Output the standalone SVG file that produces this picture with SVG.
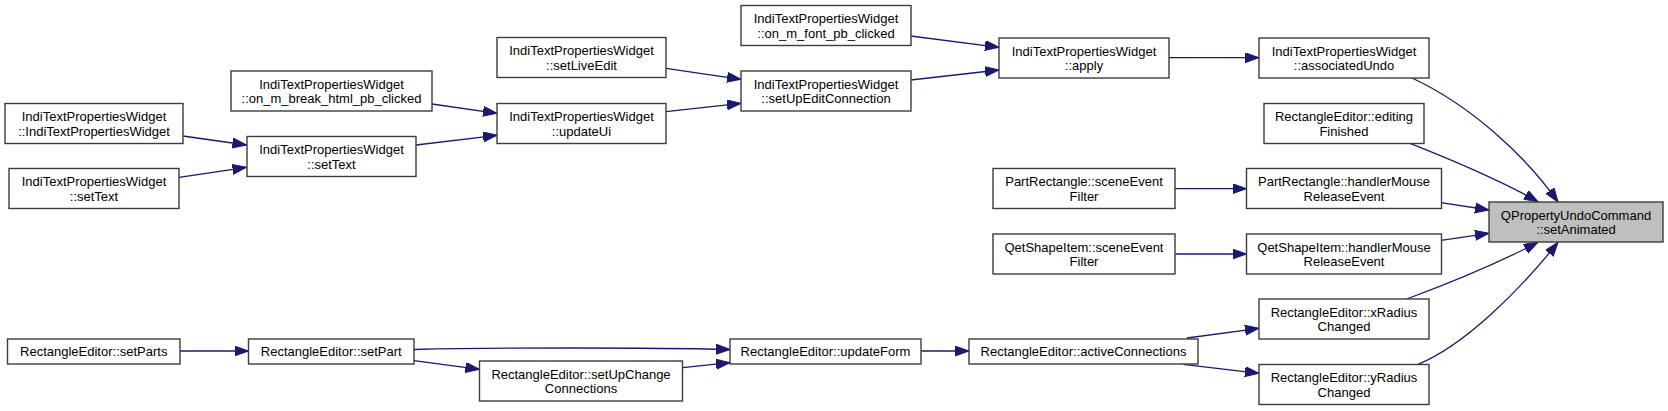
<svg xmlns="http://www.w3.org/2000/svg" width="1668" height="411" viewBox="0 0 1668 411">
<style>
.n rect{fill:#ffffff;stroke:#3c3c3c;stroke-width:1.4}
.n.hl rect{fill:#bfbfbf}
.n text{font-family:"Liberation Sans",Arial,sans-serif;font-size:13px;fill:#000;text-anchor:middle}
.e path{fill:none;stroke:#191970;stroke-width:1.3;marker-end:url(#ah)}
</style>
<defs>
<marker id="ah" markerUnits="userSpaceOnUse" markerWidth="15" markerHeight="11" refX="14" refY="5" orient="auto" viewBox="0 0 15 11">
<path d="M0,0 L14,5 L0,10 z" fill="#191970" stroke="#191970" stroke-width="1"/>
</marker>
</defs>
<rect width="1668" height="411" fill="#ffffff"/>
<g id="edges" class="e">
<path d="M910.7,36 L999,47.3"/>
<path d="M910.7,80 L999,70"/>
<path d="M1169,57.7 L1259,57.7"/>
<path d="M1412,78 C1470,105 1525,155 1558,202"/>
<path d="M1410,143.3 C1460,163 1500,180 1538,201.7"/>
<path d="M1441,202.7 L1489,210"/>
<path d="M1441,240.3 L1489,233.3"/>
<path d="M1406.7,299 C1450,283 1500,262 1538,242.3"/>
<path d="M1418,364.3 C1465,345 1520,290 1558,242.3"/>
<path d="M183,136 L246.5,145"/>
<path d="M179,177.3 L246.5,167.3"/>
<path d="M416,145 L497,135.3"/>
<path d="M432,104 L497,113.3"/>
<path d="M666,68.3 L741,79.3"/>
<path d="M666,111.7 L741,103.3"/>
<path d="M1175,188.7 L1246.5,188.7"/>
<path d="M1175,254 L1246.5,254"/>
<path d="M180,351 L248.5,351"/>
<path d="M414,349.5 C500,347.5 650,347.5 730,349.5"/>
<path d="M414,360.7 L479.5,369.3"/>
<path d="M682.7,367.7 L730,362.7"/>
<path d="M921.3,351 L969,351"/>
<path d="M1187,338 L1259,328.3"/>
<path d="M1183.3,364.3 L1259,373.3"/>
</g>
<g id="n_on_m_font" class="n"><rect x="741" y="5.5" width="170" height="40"/><text x="826" y="23">IndiTextPropertiesWidget</text><text x="826" y="37.5">::on_m_font_pb_clicked</text></g>
<g id="n_apply" class="n"><rect x="999" y="38" width="170" height="40"/><text x="1084" y="55.5">IndiTextPropertiesWidget</text><text x="1084" y="70">::apply</text></g>
<g id="n_associatedUndo" class="n"><rect x="1259" y="38" width="170" height="40"/><text x="1344" y="55.5">IndiTextPropertiesWidget</text><text x="1344" y="70">::associatedUndo</text></g>
<g id="n_setLiveEdit" class="n"><rect x="497" y="37.5" width="169" height="40"/><text x="581.5" y="55">IndiTextPropertiesWidget</text><text x="581.5" y="69.5">::setLiveEdit</text></g>
<g id="n_setUpEditConnection" class="n"><rect x="741" y="71" width="170" height="40"/><text x="826" y="88.5">IndiTextPropertiesWidget</text><text x="826" y="103">::setUpEditConnection</text></g>
<g id="n_on_m_break" class="n"><rect x="231" y="71" width="201" height="40"/><text x="331.5" y="88.5">IndiTextPropertiesWidget</text><text x="331.5" y="103">::on_m_break_html_pb_clicked</text></g>
<g id="n_updateUi" class="n"><rect x="497" y="103.5" width="169" height="40"/><text x="581.5" y="121">IndiTextPropertiesWidget</text><text x="581.5" y="135.5">::updateUi</text></g>
<g id="n_ctor" class="n"><rect x="5" y="103.5" width="178" height="40"/><text x="94" y="121">IndiTextPropertiesWidget</text><text x="94" y="135.5">::IndiTextPropertiesWidget</text></g>
<g id="n_setText_mid" class="n"><rect x="247" y="136.5" width="169" height="40"/><text x="331.5" y="154">IndiTextPropertiesWidget</text><text x="331.5" y="168.5">::setText</text></g>
<g id="n_setText_left" class="n"><rect x="9" y="168.5" width="170" height="40"/><text x="94" y="186">IndiTextPropertiesWidget</text><text x="94" y="200.5">::setText</text></g>
<g id="n_editingFinished" class="n"><rect x="1264" y="103.5" width="160" height="40"/><text x="1344" y="121">RectangleEditor::editing</text><text x="1344" y="135.5">Finished</text></g>
<g id="n_pr_scene" class="n"><rect x="993" y="168.5" width="182" height="40"/><text x="1084" y="186">PartRectangle::sceneEvent</text><text x="1084" y="200.5">Filter</text></g>
<g id="n_pr_handler" class="n"><rect x="1246.5" y="168.5" width="195" height="40"/><text x="1344" y="186">PartRectangle::handlerMouse</text><text x="1344" y="200.5">ReleaseEvent</text></g>
<g id="n_setAnimated" class="n hl"><rect x="1489" y="202" width="174" height="40"/><text x="1576" y="219.5">QPropertyUndoCommand</text><text x="1576" y="234">::setAnimated</text></g>
<g id="n_qs_scene" class="n"><rect x="993" y="234" width="182" height="40"/><text x="1084" y="251.5">QetShapeItem::sceneEvent</text><text x="1084" y="266">Filter</text></g>
<g id="n_qs_handler" class="n"><rect x="1246.5" y="234" width="195" height="40"/><text x="1344" y="251.5">QetShapeItem::handlerMouse</text><text x="1344" y="266">ReleaseEvent</text></g>
<g id="n_xRadius" class="n"><rect x="1259" y="299" width="170" height="40"/><text x="1344" y="316.5">RectangleEditor::xRadius</text><text x="1344" y="331">Changed</text></g>
<g id="n_yRadius" class="n"><rect x="1259" y="364.5" width="170" height="40"/><text x="1344" y="382">RectangleEditor::yRadius</text><text x="1344" y="396.5">Changed</text></g>
<g id="n_setParts" class="n"><rect x="7.5" y="339" width="172.5" height="25"/><text x="93.75" y="356">RectangleEditor::setParts</text></g>
<g id="n_setPart" class="n"><rect x="248.5" y="339" width="165.5" height="25"/><text x="331.25" y="356">RectangleEditor::setPart</text></g>
<g id="n_setUpChange" class="n"><rect x="479.5" y="361" width="203" height="40"/><text x="581" y="378.5">RectangleEditor::setUpChange</text><text x="581" y="393">Connections</text></g>
<g id="n_updateForm" class="n"><rect x="730" y="339" width="191" height="25"/><text x="825.5" y="356">RectangleEditor::updateForm</text></g>
<g id="n_activeConnections" class="n"><rect x="969" y="339" width="229" height="25"/><text x="1083.5" y="356">RectangleEditor::activeConnections</text></g>
</svg>
